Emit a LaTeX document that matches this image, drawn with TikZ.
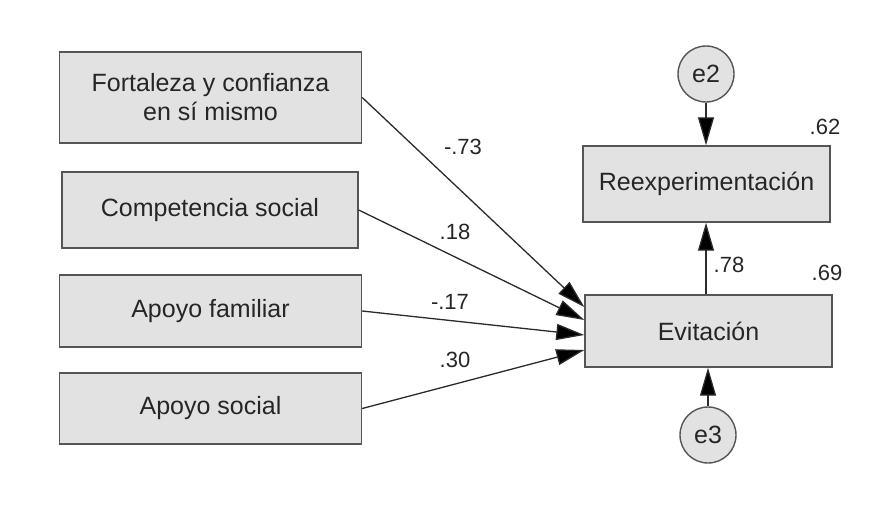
\documentclass[tikz,border=0pt]{standalone}
\usepackage{fontspec}
\setmainfont{Liberation Sans}
\usetikzlibrary{arrows.meta}
\definecolor{boxfill}{HTML}{E2E2E2}
\definecolor{boxline}{HTML}{555555}
\definecolor{wire}{HTML}{2A2A2A}
\tikzset{
  varbox/.style={draw=boxline, line width=1.4pt, fill=boxfill, inner sep=0pt,
    align=center, font=\fontsize{25}{29}\selectfont, text=black!85},
  errc/.style={circle, draw=boxline, line width=1.4pt, fill=boxfill, inner sep=0pt,
    minimum size=56pt, font=\fontsize{25}{29}\selectfont, text=black!85},
  path/.style={draw=wire, line width=1.3pt, -{Triangle[length=28pt,width=16pt,fill=black]}},
  coef/.style={font=\fontsize{22}{26}\selectfont, text=black!85, inner sep=0pt}
}
\begin{document}
\begin{tikzpicture}[x=1pt,y=-1pt]
\useasboundingbox (0,0) rectangle (888,506);
\node[varbox, minimum width=302pt, minimum height=91pt] (f1) at (210.5,97.5) {Fortaleza y confianza\\en sí mismo};
\node[varbox, minimum width=296pt, minimum height=76pt] (f2) at (210,210) {Competencia social};
\node[varbox, minimum width=302pt, minimum height=72pt] (f3) at (210.5,311) {Apoyo familiar};
\node[varbox, minimum width=302pt, minimum height=71pt] (f4) at (210.5,408.5) {Apoyo social};
\node[varbox, minimum width=247pt, minimum height=76pt] (reex) at (706.5,184) {Reexperimentación};
\node[varbox, minimum width=247pt, minimum height=72pt] (evit) at (708.5,331) {Evitación};
\node[errc] (e2) at (706,74) {e2};
\node[errc] (e3) at (708,435) {e3};
\coordinate (t1) at ([yshift=24pt]evit.west);
\coordinate (t2) at ([yshift=11pt]evit.west);
\coordinate (t3) at ([yshift=-4pt]evit.west);
\coordinate (t4) at ([yshift=-19pt]evit.west);
\draw[path] (f1.east) -- (t1);
\draw[path] (f2.east) -- (t2);
\draw[path] (f3.east) -- (t3);
\draw[path] (f4.east) -- (t4);
\draw[path] (e2.south) -- (e2.south |- reex.north);
\draw[path] (evit.north -| e2.south) -- (e2.south |- reex.south);
\draw[path] (e3.north) -- (e3.north |- evit.south);
\node[coef] (c1) at (463,147) {-.73};
\node[coef] (c2) at (455,232) {.18};
\node[coef] (c3) at (450,302) {-.17};
\node[coef] (c4) at (455,360) {.30};
\node[coef] (c5) at (729,265) {.78};
\node[coef] (c6) at (827,273) {.69};
\node[coef] (c7) at (825,127) {.62};
\end{tikzpicture}
\end{document}
